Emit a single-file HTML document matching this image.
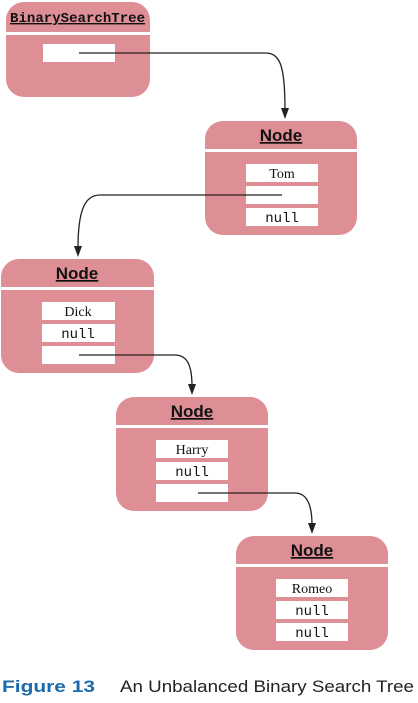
<!DOCTYPE html>
<html><head><meta charset="utf-8"><style>
body{margin:0;background:#fff;width:418px;height:698px;overflow:hidden}
</style></head><body>
<svg width="418" height="698" xmlns="http://www.w3.org/2000/svg">
<g fill="#de8f96">
<rect x="6" y="2" width="144" height="95" rx="18"/>
<rect x="205" y="121" width="152" height="114" rx="18"/>
<rect x="1" y="259" width="153" height="114" rx="18"/>
<rect x="116" y="397" width="152" height="114" rx="18"/>
<rect x="236" y="536" width="152" height="114" rx="18"/>
</g>
<g fill="#fff">
<rect x="6" y="32" width="144" height="3"/>
<rect x="43" y="44" width="72" height="18"/>
<rect x="205" y="149" width="152" height="3"/>
<rect x="246" y="164" width="72" height="18"/><rect x="246" y="186" width="72" height="18"/><rect x="246" y="208" width="72" height="18"/>
<rect x="1" y="287" width="153" height="3"/>
<rect x="42" y="302" width="73" height="18"/><rect x="42" y="324" width="73" height="18"/><rect x="42" y="346" width="73" height="18"/>
<rect x="116" y="425" width="152" height="3"/>
<rect x="156" y="440" width="72" height="18"/><rect x="156" y="462" width="72" height="18"/><rect x="156" y="484" width="72" height="18"/>
<rect x="236" y="564" width="152" height="3"/>
<rect x="276" y="579" width="72" height="18"/><rect x="276" y="601" width="72" height="18"/><rect x="276" y="623" width="72" height="18"/>
</g>
<text x="10" y="22" font-family="Liberation Mono, monospace" font-weight="bold" font-size="14" fill="#111" textLength="135" lengthAdjust="spacingAndGlyphs" text-decoration="underline">BinarySearchTree</text>
<g font-family="Liberation Sans, sans-serif" font-weight="bold" font-size="17" fill="#111" text-anchor="middle" text-decoration="underline">
<text x="281" y="141">Node</text>
<text x="77" y="279">Node</text>
<text x="192" y="417">Node</text>
<text x="312" y="556">Node</text>
</g>
<g font-family="Liberation Serif, serif" font-size="14" fill="#111" text-anchor="middle">
<text x="282" y="178">Tom</text>
<text x="78" y="316">Dick</text>
<text x="192" y="454">Harry</text>
<text x="312" y="593">Romeo</text>
</g>
<g font-family="Liberation Mono, monospace" font-size="14" fill="#111" text-anchor="middle">
<text x="282" y="222">null</text>
<text x="78" y="338">null</text>
<text x="192" y="476">null</text>
<text x="312" y="615">null</text>
<text x="312" y="637">null</text>
</g>
<g stroke="#222" stroke-width="1.3" fill="none">
<path d="M79,53 L265,53 C280,53 285,65 285,110"/>
<path d="M282,195 L100,195 C85,195 78,210 78,248"/>
<path d="M79,355 L175,355 C187,355 192,365 192,386"/>
<path d="M198,493 L295,493 C307,493 312,505 312,525"/>
</g>
<g fill="#222">
<path d="M281,108 L289,108 L285,119 Z"/>
<path d="M74,246 L82,246 L78,257 Z"/>
<path d="M188,384 L196,384 L192,395 Z"/>
<path d="M308,523 L316,523 L312,534 Z"/>
</g>
<text x="2" y="692" font-family="Liberation Sans, sans-serif" font-weight="bold" font-size="17" fill="#1a6aad" textLength="93" lengthAdjust="spacingAndGlyphs">Figure 13</text>
<text x="120" y="692" font-family="Liberation Sans, sans-serif" font-size="17" fill="#222" textLength="294" lengthAdjust="spacingAndGlyphs">An Unbalanced Binary Search Tree</text>
</svg>
</body></html>
